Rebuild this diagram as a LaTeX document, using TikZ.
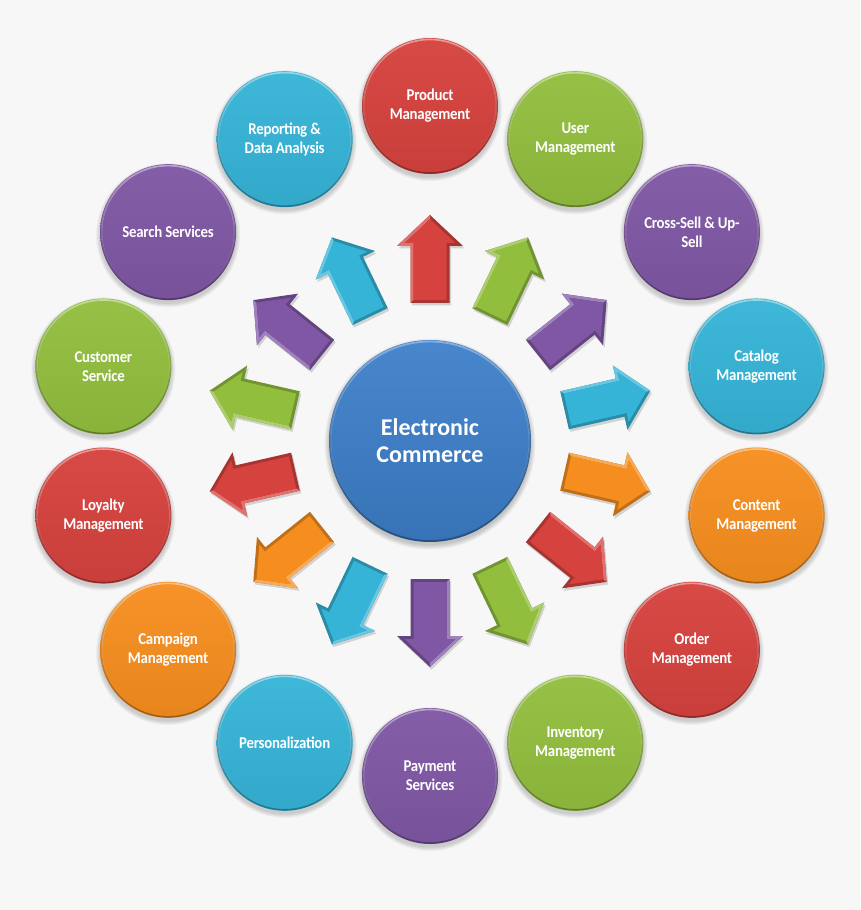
\documentclass[tikz,border=0pt]{standalone}
\usepackage{fontspec}
\setmainfont{Carlito}
\newfontfamily\lblfont[FakeStretch=0.9,LetterSpace=-1.5]{Carlito}
\usetikzlibrary{fadings}
\definecolor{cred}{RGB}{214,66,62}
\definecolor{cgreen}{RGB}{146,190,62}
\definecolor{cpurple}{RGB}{127,87,164}
\definecolor{ccyan}{RGB}{54,180,215}
\definecolor{corange}{RGB}{246,142,31}
\definecolor{cblue}{RGB}{61,127,202}
\definecolor{bgc}{RGB}{247,247,247}
\tikzset{
  ringnode/.style={circle, minimum size=136pt, inner sep=0pt, text=white, align=center,
    font=\lblfont\bfseries\fontsize{16.5}{19}\selectfont},
  hubnode/.style={circle, minimum size=202pt, inner sep=0pt, text=white, align=center,
    font=\bfseries\fontsize{24}{27}\selectfont,
    top color=cblue!94!white, bottom color=cblue!90!black},
}
\begin{document}
\begin{tikzpicture}[x=1pt,y=1pt]
\fill[bgc] (-430,-469) rectangle (430,441);
\useasboundingbox (-430,-469) rectangle (430,441);

% outer circles
\foreach \i/\c/\t in {0/cred/{Product\\Management},1/cgreen/{User\\Management},
  2/cpurple/{Cross-Sell \& Up-\\Sell},3/ccyan/{Catalog\\Management},
  4/corange/{Content\\Management},5/cred/{Order\\Management},
  6/cgreen/{Inventory\\Management},7/cpurple/{Payment\\Services},
  8/ccyan/{Personalization},9/corange/{Campaign\\Management},
  10/cred/{Loyalty\\Management},11/cgreen/{Customer\\Service},
  12/cpurple/{Search Services},13/ccyan/{Reporting \&\\Data Analysis}}{
  \pgfmathsetmacro\ang{90-\i*360/14}
  \begin{scope}[shift={(\ang:335pt)}]
    \foreach \s in {0,...,4}
      \fill[black,opacity=0.035] (0,-3) circle ({68.5+\s*0.9});
    \node[ringnode, top color=\c!96!white, bottom color=\c!94!black] (o\i) at (0,0) {\t};
    \draw[white,opacity=0.45,line width=1.6pt,path fading=south] (o\i.center) circle (66.5pt);
    \draw[black,opacity=0.30,line width=1.6pt,path fading=north] (o\i.center) circle (67pt);
  \end{scope}
  % arrow
  \begin{scope}[shift={(1.5,-2.5)},rotate=\ang]
    \fill[black,opacity=0.15] (138,-19.5) -- (195,-19.5) -- (195,-33) -- (226,0)
      -- (195,33) -- (195,19.5) -- (138,19.5) -- cycle;
  \end{scope}
  \begin{scope}[rotate=\ang]
    \fill[\c!78!black] (138,-19.5) -- (195,-19.5) -- (195,-33) -- (226,0)
      -- (195,33) -- (195,19.5) -- (138,19.5) -- cycle;
    \fill[\c!75!white] (138,19.5) -- (141,16.5) -- (198,16.5) -- (198,25.4) -- (221.9,0)
      -- (226,0) -- (195,33) -- (195,19.5) -- cycle;
    \fill[\c] (141,-16.5) -- (198,-16.5) -- (198,-25.4) -- (221.9,0)
      -- (198,25.4) -- (198,16.5) -- (141,16.5) -- cycle;
  \end{scope}
}

% hub
\foreach \s in {0,...,5}
  \fill[black,opacity=0.035] (0,-3) circle ({101+\s*0.9});
\node[hubnode] (ec) at (0,0) {Electronic\\Commerce};
\draw[white,opacity=0.35,line width=1.8pt,path fading=south] (ec.center) circle (99.5pt);
\draw[black,opacity=0.30,line width=1.8pt,path fading=north] (ec.center) circle (100pt);
\end{tikzpicture}
\end{document}
